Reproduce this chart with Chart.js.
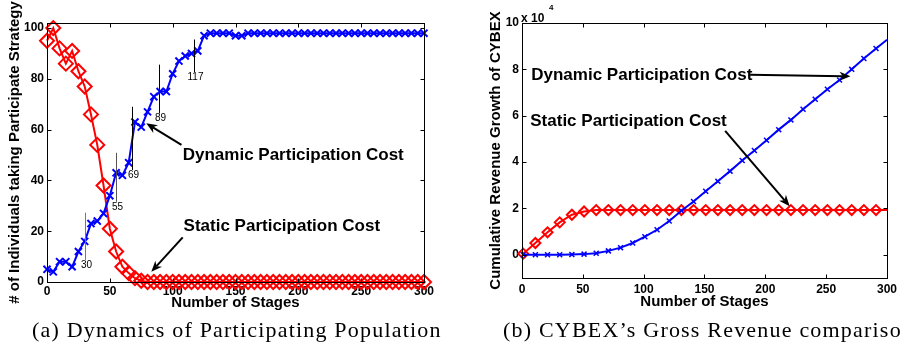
<!DOCTYPE html>
<html>
<head>
<meta charset="utf-8">
<script src="https://cdn.jsdelivr.net/npm/chart.js@4.4.0/dist/chart.umd.min.js"></script>
<style>
  body { margin: 0; width: 901px; height: 345px; overflow: hidden; background: #fff; position: relative; }
  .panel { position: absolute; top: 0; height: 345px; }
  .panel canvas { display: block; }
  .caption { position: absolute; top: 317px; font-family: "Liberation Serif", "Times New Roman", serif; font-size: 22px; line-height: 26px; letter-spacing: 1.2px; white-space: nowrap; color: #000; }
</style>
</head>
<body>
<div class="panel" style="left:0;width:450px"><canvas id="chartA" width="450" height="345"></canvas></div>
<div class="panel" style="left:450px;width:451px"><canvas id="chartB" width="451" height="345"></canvas></div>
<div class="caption" style="left:32px">(a) Dynamics of Participating Population</div>
<div class="caption" style="left:503px">(b) CYBEX’s Gross Revenue comparison</div>
<script>
// (a) population taking the participate strategy, sampled every 5 stages
const stagesA = [0, 5, 10, 15, 20, 25, 30, 35, 40, 45, 50, 55, 60, 65, 70, 75, 80, 85, 90, 95,
  100, 105, 110, 115, 120, 125, 130, 135, 140, 145, 150, 155, 160, 165, 170, 175, 180, 185, 190, 195,
  200, 205, 210, 215, 220, 225, 230, 235, 240, 245, 250, 255, 260, 265, 270, 275, 280, 285, 290, 295, 300];
const dynamicA = [5, 4, 8, 8, 6, 12, 16, 23, 24, 27, 34, 43, 42, 47, 63, 61, 67, 73, 75, 75,
  82, 87, 89, 90, 91, 97, 98, 98, 98, 98, 97, 97, 98, 98, 98, 98, 98, 98, 98, 98,
  98, 98, 98, 98, 98, 98, 98, 98, 98, 98, 98, 98, 98, 98, 98, 98, 98, 98, 98, 98, 98];
const staticA = [95, 100, 92, 86, 91, 83, 77, 66, 54, 38, 21, 12, 6, 3.5, 1.5, 0.5, 0, 0, 0, 0,
  0, 0, 0, 0, 0, 0, 0, 0, 0, 0, 0, 0, 0, 0, 0, 0, 0, 0, 0, 0,
  0, 0, 0, 0, 0, 0, 0, 0, 0, 0, 0, 0, 0, 0, 0, 0, 0, 0, 0, 0, 0];
const xTicksA = [0, 50, 100, 150, 200, 250, 300];
const yTicksA = [0, 20, 40, 60, 80, 100];
const markStagesA = [30, 55, 69, 89, 117];

// (b) cumulative revenue (x 10^4), markers every 10 stages
const stagesB = [1, 11, 21, 31, 41, 51, 61, 71, 81, 91, 101, 111, 121, 131, 141, 151, 161, 171, 181, 191,
  201, 211, 221, 231, 241, 251, 261, 271, 281, 291, 300];
const dynamicB = [0, 0, 0, 0, 0.01, 0.03, 0.07, 0.17, 0.31, 0.51, 0.78, 1.08, 1.46, 1.9, 2.3, 2.74, 3.17, 3.61, 4.07, 4.5,
  4.94, 5.4, 5.82, 6.28, 6.71, 7.14, 7.54, 8.0, 8.47, 8.9, 9.28];
const staticB = [0.05, 0.51, 0.97, 1.4, 1.73, 1.87, 1.93, 1.93, 1.93, 1.93, 1.93, 1.93, 1.93, 1.93, 1.93, 1.93, 1.93, 1.93, 1.93, 1.93,
  1.93, 1.93, 1.93, 1.93, 1.93, 1.93, 1.93, 1.93, 1.93, 1.93, 1.93];
const xTicksB = [0, 50, 100, 150, 200, 250, 300];
const yTicksB = [0, 2, 4, 6, 8, 10];

const SANS = "'Liberation Sans', Arial, Helvetica, sans-serif";
const BLUE = "#0000ff";
const RED = "#ff0000";

function pts(xs, ys) {
  return xs.map((x, i) => ({ x, y: ys[i] }));
}

function drawArrow(ctx, x1, y1, x2, y2) {
  const ang = Math.atan2(y2 - y1, x2 - x1);
  const c = Math.cos(ang), s = Math.sin(ang);
  const head = 11, half = 4.5;
  ctx.beginPath();
  ctx.moveTo(x1, y1);
  ctx.lineTo(x2 - head * 0.7 * c, y2 - head * 0.7 * s);
  ctx.stroke();
  ctx.beginPath();
  ctx.moveTo(x2, y2);
  ctx.lineTo(x2 - head * c + half * s, y2 - head * s - half * c);
  ctx.lineTo(x2 - head * 0.7 * c, y2 - head * 0.7 * s);
  ctx.lineTo(x2 - head * c - half * s, y2 - head * s + half * c);
  ctx.closePath();
  ctx.fill();
}

// box, inward ticks and the annotations
const decorPlugin = {
  id: "decor",
  afterDatasetsDraw(chart, args, opts) {
    const { ctx, chartArea: a, scales: { x, y } } = chart;
    ctx.save();
    ctx.strokeStyle = "#000";
    ctx.fillStyle = "#000";
    ctx.lineWidth = 1;
    const L = Math.round(a.left) + 0.5, R = Math.round(a.right) + 0.5;
    const T = Math.round(a.top) + 0.5, B = Math.round(a.bottom) + 0.5;
    ctx.strokeRect(L, T, R - L, B - T);
    ctx.beginPath();
    x.ticks.forEach(t => {
      const px = Math.round(x.getPixelForValue(t.value)) + 0.5;
      ctx.moveTo(px, B); ctx.lineTo(px, B - 4);
      ctx.moveTo(px, T); ctx.lineTo(px, T + 4);
    });
    y.ticks.forEach(t => {
      const py = Math.round(y.getPixelForValue(t.value)) + 0.5;
      ctx.moveTo(L, py); ctx.lineTo(L + 4, py);
      ctx.moveTo(R, py); ctx.lineTo(R - 4, py);
    });
    ctx.stroke();

    // vertical stage marks with their numbers
    (opts.marks || []).forEach(m => {
      const px = Math.round(x.getPixelForValue(m.at)) + 0.5;
      const y1 = y.getPixelForValue(m.top), y2 = y.getPixelForValue(m.bottom);
      ctx.strokeStyle = m.color;
      ctx.lineWidth = 1;
      ctx.beginPath(); ctx.moveTo(px, y1); ctx.lineTo(px, y2); ctx.stroke();
      ctx.font = "10px " + SANS;
      ctx.textAlign = "center";
      ctx.textBaseline = "top";
      ctx.fillStyle = "#000";
      ctx.fillText(m.text, px + 1, y2);
    });

    ctx.strokeStyle = "#000";
    ctx.fillStyle = "#000";
    ctx.lineWidth = 2;
    (opts.arrows || []).forEach(r => {
      drawArrow(ctx, x.getPixelForValue(r.from[0]), y.getPixelForValue(r.from[1]),
        x.getPixelForValue(r.to[0]), y.getPixelForValue(r.to[1]));
    });

    ctx.font = "bold 17px " + SANS;
    ctx.textAlign = "left";
    ctx.textBaseline = "middle";
    (opts.labels || []).forEach(l => {
      ctx.fillText(l.text, x.getPixelForValue(l.x), y.getPixelForValue(l.y));
    });

    if (opts.exponent) {
      ctx.font = "bold 12px " + SANS;
      ctx.textBaseline = "alphabetic";
      ctx.fillText("x 10", a.left - 1, a.top - 1);
      ctx.font = "bold 8px " + SANS;
      ctx.fillText(opts.exponent, a.left + 27, a.top - 13);
    }
    ctx.restore();
  }
};

function axis(ticksList, titleText, titlePad, size, tickPad, isX) {
  return {
    type: "linear",
    afterBuildTicks: s => { s.ticks = ticksList.map(v => ({ value: v })); },
    afterFit: s => { if (isX) s.height = size; else s.width = size; },
    ticks: { color: "#000", padding: tickPad, font: { family: SANS, size: 12, weight: "bold" } },
    grid: { display: false, drawTicks: false },
    border: { display: false },
    title: {
      display: true, text: titleText, color: "#000", padding: titlePad,
      font: { family: SANS, size: 15, weight: "bold" }
    }
  };
}

const lineDefaults = { borderWidth: 2, tension: 0, clip: false, pointBorderWidth: 2, pointBackgroundColor: "rgba(0,0,0,0)", backgroundColor: "rgba(0,0,0,0)" };

new Chart(document.getElementById("chartA"), {
  type: "line",
  data: {
    datasets: [
      Object.assign({}, lineDefaults, {
        label: "Dynamic Participation Cost", data: pts(stagesA, dynamicA),
        borderColor: BLUE, pointBorderColor: BLUE, pointStyle: "crossRot", pointRadius: 5
      }),
      Object.assign({}, lineDefaults, {
        label: "Static Participation Cost", data: pts(stagesA, staticA),
        borderColor: RED, pointBorderColor: RED, pointStyle: "rectRot", pointRadius: 7
      })
    ]
  },
  options: {
    responsive: false, animation: false, devicePixelRatio: 1,
    layout: { padding: { left: 0, right: 26, top: 23, bottom: 30 } },
    plugins: {
      legend: { display: false }, tooltip: { enabled: false },
      decor: {
        labels: [
          { text: "Dynamic Participation Cost", x: 108, y: 50 },
          { text: "Static Participation Cost", x: 108.7, y: 22 }
        ],
        arrows: [
          { from: [107, 54], to: [79, 62.5] },
          { from: [108, 17.6], to: [83, 4] }
        ],
        marks: [
          { at: markStagesA[0], text: "30", top: 27.3, bottom: 8.7, color: "#777" },
          { at: markStagesA[1], text: "55", top: 50.9, bottom: 31.6, color: "#555" },
          { at: 68, text: "69", top: 69, bottom: 44.1, color: "#000" },
          { at: markStagesA[3], text: "89", top: 85.6, bottom: 66.4, color: "#000" },
          { at: markStagesA[4], text: "117", top: 95.5, bottom: 82.7, color: "#000" }
        ]
      }
    },
    scales: {
      x: Object.assign(axis(xTicksA, "Number of Stages", { top: 0, bottom: 3 }, 33, 2, true), { min: 0, max: 300 }),
      y: Object.assign(axis(yTicksA, "# of Individuals taking Participate Strategy", { top: 6, bottom: 0 }, 47, 3, false), { min: 0, max: 102 })
    }
  },
  plugins: [decorPlugin]
});

new Chart(document.getElementById("chartB"), {
  type: "line",
  data: {
    datasets: [
      Object.assign({}, lineDefaults, {
        label: "Dynamic Participation Cost", data: pts(stagesB, dynamicB),
        borderColor: BLUE, pointBorderColor: BLUE, pointStyle: "crossRot", pointBorderWidth: 1.5,
        pointRadius: ctx => ctx.dataIndex === stagesB.length - 1 ? 0 : 3.5
      }),
      Object.assign({}, lineDefaults, {
        label: "Static Participation Cost", data: pts(stagesB, staticB),
        borderColor: RED, pointBorderColor: RED, pointStyle: "rectRot",
        pointRadius: ctx => ctx.dataIndex === stagesB.length - 1 ? 0 : 5
      })
    ]
  },
  options: {
    responsive: false, animation: false, devicePixelRatio: 1,
    layout: { padding: { left: 0, right: 11, top: 23, bottom: 30 } },
    plugins: {
      legend: { display: false }, tooltip: { enabled: false },
      decor: {
        exponent: "4",
        labels: [
          { text: "Dynamic Participation Cost", x: 7.6, y: 7.75 },
          { text: "Static Participation Cost", x: 6.8, y: 5.75 }
        ],
        arrows: [
          { from: [187.5, 7.77], to: [270, 7.7] },
          { from: [167, 5.35], to: [220, 2.1] }
        ]
      }
    },
    scales: {
      x: Object.assign(axis(xTicksB, "Number of Stages", { top: 0, bottom: 4 }, 37, 4, true), { min: 0, max: 300 }),
      y: Object.assign(axis(yTicksB, "Cumulative Revenue Growth of CYBEX", { top: 37, bottom: 0 }, 72, 3, false), { min: -1, max: 10 })
    }
  },
  plugins: [decorPlugin]
});
</script>
</body>
</html>
